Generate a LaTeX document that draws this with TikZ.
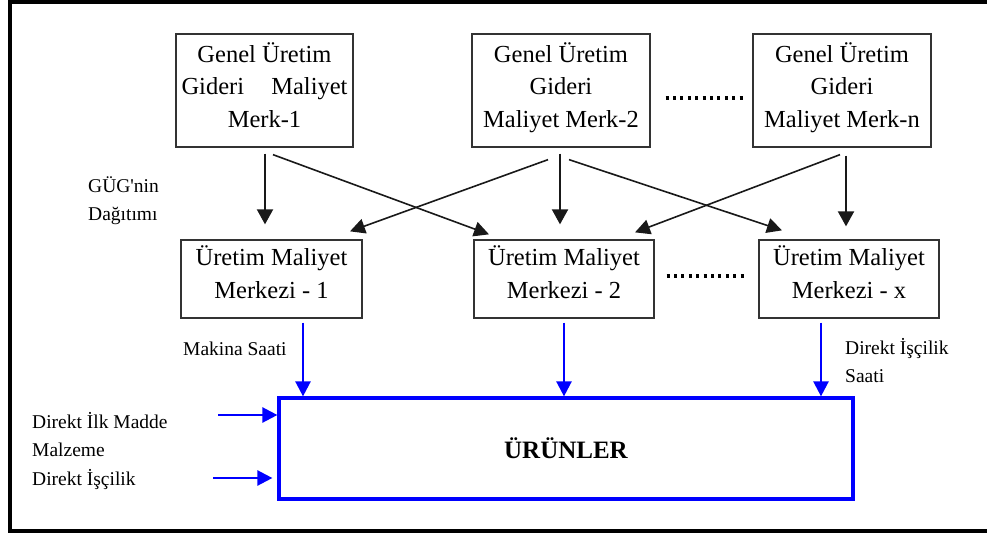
\documentclass[tikz,border=0pt]{standalone}
\usepackage{fontspec}
\setmainfont{Liberation Serif}
\usetikzlibrary{arrows.meta,calc}

\begin{document}
\begin{tikzpicture}[x=1pt,y=-1pt,
  box/.style={draw=black!80, line width=1.3pt, rectangle, inner sep=0pt,
    minimum width=#1, align=center, font=\fontsize{24.5}{32.5}\selectfont},
  topbox/.style={box=#1, minimum height=113pt, text height=80pt, text depth=7pt},
  midbox/.style={box=#1, minimum height=78pt, text height=45.5pt, text depth=7pt},
  outbox/.style={draw=blue, line width=3.2pt, rectangle, inner sep=0pt,
    minimum width=574pt, minimum height=101pt,
    font=\fontsize{25}{30}\selectfont\bfseries},
  lbl/.style={inner sep=0pt, anchor=base west, align=left,
    font=\fontsize{19.5}{28}\selectfont},
  vflow/.style={draw=black!90, line width=2pt,
    -{Triangle[length=15pt,width=16pt]}},
  xflow/.style={draw=black!90, line width=1.6pt,
    -{Triangle[length=15pt,width=15pt]}},
  bflow/.style={draw=blue, line width=2.4pt,
    -{Triangle[length=15pt,width=15pt]}},
  ellipsis/.style={line width=3.2pt, dash pattern=on 3pt off 4.4pt},
]
\useasboundingbox (0,0) rectangle (987,535);

% outer frame (runs off the right edge)
\draw[line width=3.6pt] (1000,531) -- (10.2,531) -- (10.2,1.8) -- (1000,1.8);

% cost pools
\node[topbox=177pt] (b1) at (264.5,90.5)
  {Genel Üretim\\\makebox[166pt][s]{Gideri\hfill Maliyet}\\Merk-1};
\node[topbox=178pt] (b2) at (561,90.5)
  {Genel Üretim\\Gideri\\Maliyet Merk-2};
\node[topbox=178pt] (b3) at (842,90.5)
  {Genel Üretim\\Gideri\\Maliyet Merk-n};

% production cost centres
\node[midbox=181pt] (m1) at (271.5,279) {Üretim Maliyet\\Merkezi - 1};
\node[midbox=180pt] (m2) at (564,279) {Üretim Maliyet\\Merkezi - 2};
\node[midbox=180pt] (m3) at (849,279) {Üretim Maliyet\\Merkezi - x};

% products
\node[outbox] (u) at (566,448.5) {ÜRÜNLER};

% ellipses between columns
\draw[ellipsis] ($(b2.east)+(15,7.5)$) -- ($(b3.west)+(-6,7.5)$);
\draw[ellipsis] ($(m2.east)+(12,-3)$) -- ($(m3.west)+(-12,-3)$);

% overhead distribution
\draw[vflow] ($(b1.south)+(0.5,6)$) -- ($(m1.north)+(-6.5,-15)$);
\draw[vflow] ($(b2.south)+(-1,6)$) -- ($(m2.north)+(-4,-15)$);
\draw[vflow] ($(b3.south)+(4,8)$) -- ($(m3.north)+(-3,-13)$);
\draw[xflow] ($(b1.south)+(8.5,7)$) -- ($(m2.north)+(-75,-5)$);
\draw[xflow] ($(b2.south)+(-13,12)$) -- ($(m1.north)+(78.5,-8)$);
\draw[xflow] ($(b2.south)+(8,12)$) -- ($(m3.north)+(-67,-9)$);
\draw[xflow] ($(b3.south)+(-2,7)$) -- ($(m2.north)+(71,-7)$);

% absorption into products
\draw[bflow] ($(m1.south)+(31.5,4)$) -- ($(u.north)+(-263,0)$);
\draw[bflow] ($(m2.south)+(0,4)$) -- ($(u.north)+(-2,0)$);
\draw[bflow] ($(m3.south)+(-28,4)$) -- ($(u.north)+(255,0)$);

\coordinate (in1) at (218,415);
\coordinate (in2) at (213,478);
\draw[bflow] (in1) -- ($(u.west)+(0,-33.5)$);
\draw[bflow] (in2) -- ($(u.west)+(-5,29.5)$);

% labels (placed by the baseline of their last line)
\node[lbl] (gug) at (88,220) {GÜG\textquotesingle nin\\Dağıtımı};
\node[lbl] (mak) at (183,355) {Makina Saati};
\node[lbl] (dis) at (845,382) {Direkt İşçilik\\Saati};
\node[lbl] (dim) at (32,456) {Direkt İlk Madde\\Malzeme};
\node[lbl] (dic) at (32,485) {Direkt İşçilik};
\end{tikzpicture}
\end{document}
